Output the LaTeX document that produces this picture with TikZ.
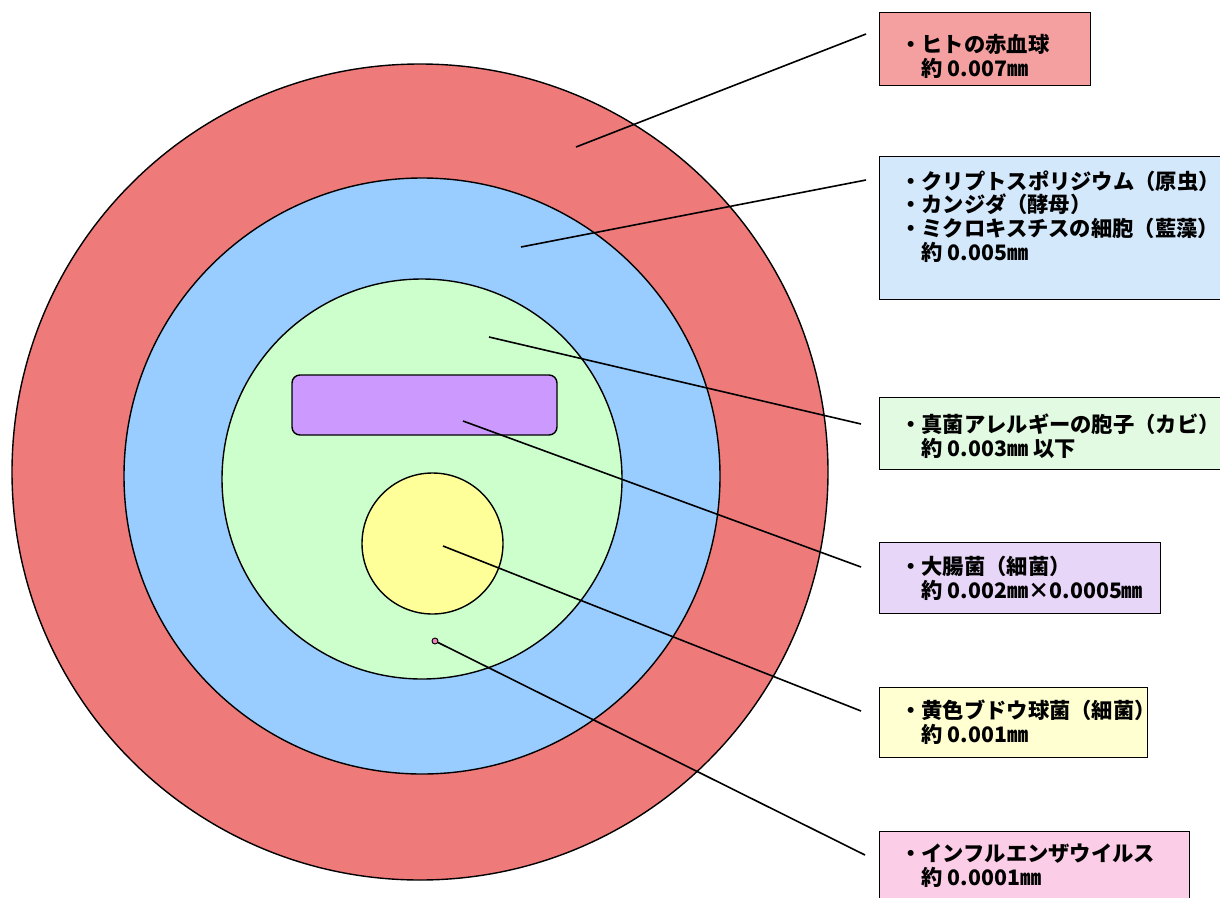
\documentclass[tikz,border=0pt]{standalone}
\usepackage{fontspec}
\newfontfamily\jp{Noto Sans CJK JP}
\definecolor{cred}{HTML}{EE7A7A}
\definecolor{cblue}{HTML}{99CCFF}
\definecolor{cgreen}{HTML}{CCFFCC}
\definecolor{cpurple}{HTML}{CC99FF}
\definecolor{cyellow}{HTML}{FFFF99}
\definecolor{cpink}{HTML}{F080C0}
\definecolor{bred}{HTML}{F4A0A0}
\definecolor{bblue}{HTML}{D4E8FB}
\definecolor{bgreen}{HTML}{E2F9E2}
\definecolor{bpurple}{HTML}{E8D6F8}
\definecolor{byellow}{HTML}{FFFFD2}
\definecolor{bpink}{HTML}{FCCDE6}
\begin{document}
\begin{tikzpicture}[x=1pt,y=-1pt,
  ring/.style={draw=black,line width=1.4pt},
  lbox/.style={draw=black,line width=1.4pt,rectangle,anchor=north west,inner sep=0pt},
  ltext/.style={anchor=west,inner sep=0pt,align=left,font=\jp\bfseries\fontsize{21.3}{23.8}\selectfont},
  leader/.style={draw=black,line width=1.6pt}]
\useasboundingbox (0,0) rectangle (1220,897);
\clip (0,0) rectangle (1220,897);
\fill[white] (0,0) rectangle (1220,897);
% circles
\node[ring,circle,fill=cred,minimum size=816pt,inner sep=0pt] (rbc) at (420,472) {};
\node[ring,circle,fill=cblue,minimum size=596pt,inner sep=0pt] (crypto) at (422,476) {};
\node[ring,circle,fill=cgreen,minimum size=400pt,inner sep=0pt] (spore) at (422,479) {};
\node[ring,rectangle,rounded corners=8pt,fill=cpurple,minimum width=265pt,minimum height=60pt,inner sep=0pt] (ecoli) at (424.5,405) {};
\node[ring,circle,fill=cyellow,minimum size=141pt,inner sep=0pt] (staph) at (432.5,543.5) {};
\node[draw=black,line width=0.9pt,circle,fill=cpink,minimum size=6pt,inner sep=0pt] (flu) at (435,641) {};
% label boxes
\node[lbox,fill=bred,minimum width=211pt,minimum height=73pt] (b1) at (879,12) {};
\node[lbox,fill=bblue,minimum width=360pt,minimum height=143pt] (b2) at (879,156) {};
\node[lbox,fill=bgreen,minimum width=360pt,minimum height=72pt] (b3) at (879,397) {};
\node[lbox,fill=bpurple,minimum width=281pt,minimum height=71pt] (b4) at (879,542) {};
\node[lbox,fill=byellow,minimum width=268pt,minimum height=70pt] (b5) at (879,687) {};
\node[lbox,fill=bpink,minimum width=310pt,minimum height=80pt] (b6) at (879,831) {};
% texts
\node[ltext] (t1) at (900,56) {・ヒトの赤血球\\\hspace*{1em}約 0.007㎜};
\node[ltext] (t2) at (900,216.5) {・クリプトスポリジウム（原虫）\\・カンジダ（酵母）\\・ミクロキスチスの細胞（藍藻）\\\hspace*{1em}約 0.005㎜};
\node[ltext] (t3) at (900,436) {・真菌アレルギーの胞子（カビ）\\\hspace*{1em}約 0.003㎜ 以下};
\node[ltext] (t4) at (900,578.5) {・大腸菌（細菌）\\\hspace*{1em}約 0.002㎜×0.0005㎜};
\node[ltext] (t5) at (900,722) {・黄色ブドウ球菌（細菌）\\\hspace*{1em}約 0.001㎜};
\node[ltext] (t6) at (900,866) {・インフルエンザウイルス\\\hspace*{1em}約 0.0001㎜};
% leader lines
\coordinate (p1) at (576,147); \coordinate (q1) at (866,34);
\coordinate (p2) at (521,247); \coordinate (q2) at (866,180);
\coordinate (p3) at (489,337); \coordinate (q3) at (861,424);
\coordinate (p4) at (463,421); \coordinate (q4) at (861,567);
\coordinate (p5) at (443,546); \coordinate (q5) at (861,711);
\draw[leader] (p1) -- (q1);
\draw[leader] (p2) -- (q2);
\draw[leader] (p3) -- (q3);
\draw[leader] (p4) -- (q4);
\draw[leader] (p5) -- (q5);
\coordinate (q6) at (865,855);
\draw[leader] (flu) -- (q6);
\end{tikzpicture}
\end{document}
